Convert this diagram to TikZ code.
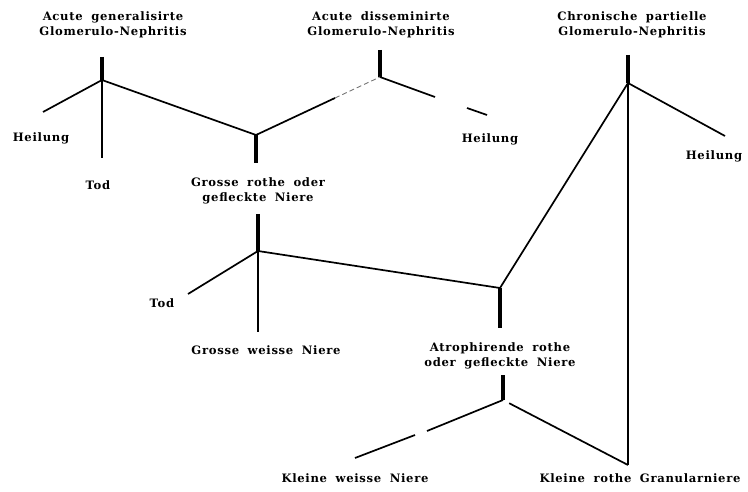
\documentclass[tikz,border=0pt]{standalone}
\usepackage{fontspec}
\setmainfont[LetterSpace=6,WordSpace=1.8]{DejaVu Serif}
\usetikzlibrary{positioning}

\begin{document}
\begin{tikzpicture}[x=1pt,y=-1pt,
    lbl/.style={font=\bfseries\fontsize{11.6}{14.5}\selectfont, align=center, inner sep=1pt},
    stem/.style={line width=3.6pt},
    branch/.style={line width=1.7pt},
    thin/.style={line width=1.2pt},
    faint/.style={line width=0.9pt, black!55, dash pattern=on 5pt off 3pt}]

    \useasboundingbox (0,0) rectangle (748,492);

    % labels
    \node[lbl] (agen)  at (113,25)  {Acute generalisirte\\Glomerulo-Nephritis};
    \node[lbl] (adis)  at (381,25)  {Acute disseminirte\\Glomerulo-Nephritis};
    \node[lbl] (chron) at (632,25)  {Chronische partielle\\Glomerulo-Nephritis};
    \node[lbl] (heil1) at (41,138)  {Heilung};
    \node[lbl] (tod1)  at (98,185)  {Tod};
    \node[lbl] (grr)   at (258,191) {Grosse rothe oder\\gefleckte Niere};
    \node[lbl] (heil2) at (490,139) {Heilung};
    \node[lbl] (heil3) at (714,156) {Heilung};
    \node[lbl] (tod2)  at (162,303) {Tod};
    \node[lbl] (grw)   at (266,350) {Grosse weisse Niere};
    \node[lbl] (atr)   at (500,356) {Atrophirende rothe\\oder gefleckte Niere};
    \node[lbl] (klw)   at (355,478) {Kleine weisse Niere};
    \node[lbl] (klr)   at (640,478) {Kleine rothe Granularniere};

    % junctions
    \coordinate (jgen) at (102,80);
    \coordinate (jdis) at (380,77);
    \coordinate (jchr) at (628,83);
    \coordinate (jgrr) at (256,135);
    \coordinate (jgrw) at (258,251);
    \coordinate (jatr) at (500,288);
    \coordinate (jkl)  at (503,400);
    \coordinate (jend) at (628,465);

    % stem ends and free ends
    \coordinate (sgen) at (102,57);
    \coordinate (sdis) at (380,50);
    \coordinate (schr) at (628,55);
    \coordinate (sgrr) at (256,163);
    \coordinate (sgrw) at (258,214);
    \coordinate (satr) at (500,328);
    \coordinate (skl)  at (503,375);
    \coordinate (eheil1) at (43,112);
    \coordinate (etod1)  at (102,158);
    \coordinate (mdis)   at (335,98);
    \coordinate (gheil2a) at (435,97);
    \coordinate (gheil2b) at (467,108);
    \coordinate (eheil2) at (487,115);
    \coordinate (eheil3) at (725,136);
    \coordinate (etod2)  at (188,294);
    \coordinate (egrw)   at (258,332);
    \coordinate (gkla) at (427,431);
    \coordinate (gklb) at (415,435);
    \coordinate (eklw) at (355,458);

    \draw[stem] (sgen) -- (jgen);
    \draw[stem] (sdis) -- (jdis);
    \draw[stem] (schr) -- (jchr);
    \draw[stem] (jgrr) -- (sgrr);
    \draw[stem] (sgrw) -- (jgrw);
    \draw[stem] (jatr) -- (satr);
    \draw[stem] (skl) -- (jkl);

    \path[branch]
    (jgen) edge (eheil1)
    (jgen) edge (jgrr)
    (jgrr) edge (mdis)
    (jdis) edge (gheil2a)
    (gheil2b) edge (eheil2)
    (jchr) edge (eheil3)
    (jgrw) edge (etod2)
    (jgrw) edge (jatr)
    (jatr) edge (jchr)
    (jchr) edge (jend)
    (jkl) edge (gkla)
    (gklb) edge (eklw)
    (jkl) edge[shorten <=7pt] (jend)
    ;

    \draw[thin] (jgen) -- (etod1);
    \draw[thin] ([yshift=4pt]jgrw) -- (egrw);
    \draw[faint] (mdis) -- (jdis);

\end{tikzpicture}
\end{document}
